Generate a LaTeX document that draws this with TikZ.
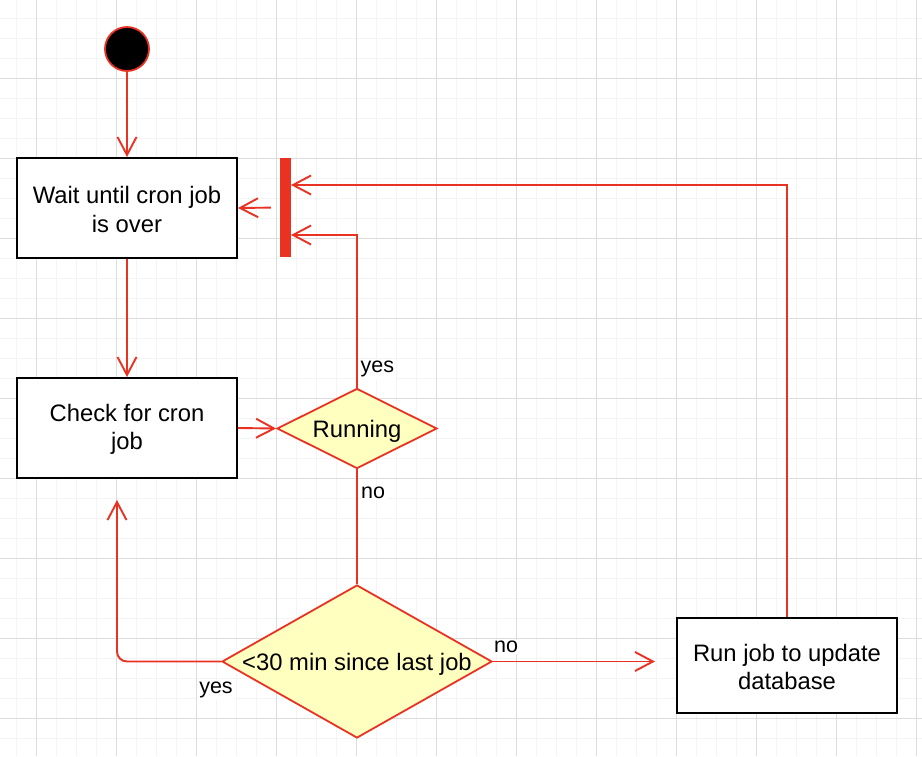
\documentclass[tikz,border=0pt]{standalone}
\usepackage{fontspec}
\setmainfont{Liberation Sans}
\usetikzlibrary{arrows.meta,shapes.geometric,calc}
\definecolor{cred}{RGB}{234,50,35}
\definecolor{cyel}{RGB}{255,255,192}
\definecolor{gmin}{RGB}{244,244,244}
\definecolor{gmaj}{RGB}{221,221,221}
\begin{document}
\begin{tikzpicture}[x=1pt,y=-1pt,
  mainfont/.style={font=\fontsize{23.8}{28.5}\selectfont},
  box/.style={draw=black,line width=2pt,fill=white,minimum width=220pt,minimum height=100pt,inner sep=0pt},
  boxtext/.style={align=center,mainfont,inner sep=0pt,yshift=-1.5pt},
  decision/.style={diamond,draw=cred,line width=1.8pt,fill=cyel,inner sep=0pt},
  edge/.style={draw=cred,line width=1.9pt,-{Straight Barb[length=18pt,width=19pt]}},
  plainline/.style={draw=cred,line width=1.9pt},
  lbl/.style={fill=white,inner sep=1.5pt,font=\fontsize{21.5}{25}\selectfont},
]
% background and bounding box
\fill[white] (0,0) rectangle (922,756);
\useasboundingbox (0,0) rectangle (922,756);
% grid
\foreach \i in {0,...,45} {\draw[gmin,line width=1.5pt] ({16.67+20*\i},0) -- ({16.67+20*\i},756);}
\foreach \j in {0,...,36} {\draw[gmin,line width=1.5pt] (0,{18.33+20*\j}) -- (922,{18.33+20*\j});}
\foreach \i in {0,...,11} {\draw[gmaj,line width=1pt] ({36.67+80*\i},0) -- ({36.67+80*\i},756);}
\foreach \j in {1,...,9} {\draw[gmaj,line width=1pt] (0,{-1.67+80*\j}) -- (922,{-1.67+80*\j});}

% nodes
\node[circle,draw=cred,fill=black,line width=1.8pt,minimum size=44pt,inner sep=0pt] (start) at (127,49) {};
\node[box] (wait) at (127,208) {};
\node[boxtext] (waittxt) at (wait.center) {Wait until cron job\\is over};
\node[fill=cred,minimum width=11pt,minimum height=99pt,inner sep=0pt] (bar) at (285.5,207.5) {};
\node[box] (check) at (127,428) {};
\node[boxtext] (checktxt) at (check.center) {Check for cron\\job};
\node[decision,minimum width=160pt,minimum height=80pt] (running) at (357,428.5) {};
\node[mainfont,inner sep=0pt,yshift=-2.5pt] (runningtxt) at (running.center) {Running};
\node[decision,minimum width=270pt,minimum height=153pt] (since) at (357,661.5) {};
\node[mainfont,inner sep=0pt,yshift=-2.5pt] (sincetxt) at (since.center) {<30 min since last job};
\node[box,minimum height=95pt] (run) at (787,665.5) {};
\node[boxtext] (runtxt) at (run.center) {Run job to update\\database};

% free ends
\coordinate (barin1) at (291,185);
\coordinate (barin2) at (291,235);
\coordinate (yesend) at (117,500);
\coordinate (noend) at (655,661.5);

% connectors
\draw[edge] (start) -- (wait);
\draw[edge,shorten <=9pt] (bar.west) -- (wait.east);
\draw[edge] (running.north) |- (barin2);
\draw[edge] (run.north) |- (barin1);
\draw[edge] (wait) -- (check);
\draw[edge] (check.east) -- (running.west);
\draw[plainline] (running.south) -- (since.north);
\draw[edge,rounded corners=10pt] (since.west) -| (yesend);
\draw[edge] (since.east) -- (noend);

% labels
\node[lbl,anchor=west] (lyes1) at (359,369) {yes};
\node[lbl,anchor=west] (lno1) at (359.5,493) {no};
\node[lbl] (lyes2) at (216,690) {yes};
\node[lbl] (lno2) at (506,647) {no};
\end{tikzpicture}
\end{document}
